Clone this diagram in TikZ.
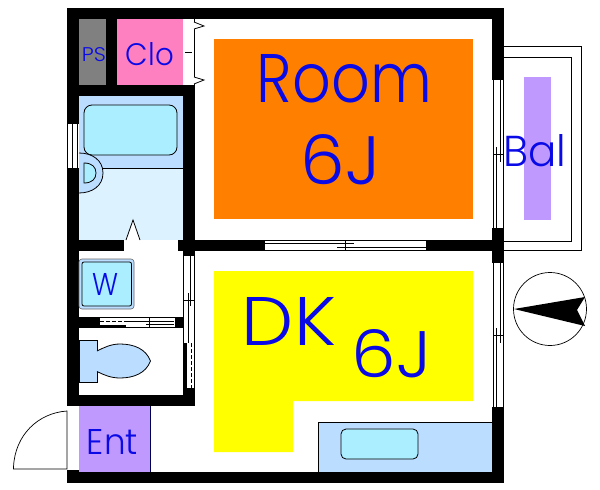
\documentclass[tikz,border=0pt]{standalone}
\usepackage{fontspec}
\setmainfont{Poppins}[UprightFont=* Light]
\definecolor{planblue}{HTML}{0A0AE6}
\definecolor{planorange}{HTML}{FF8000}
\definecolor{planyellow}{HTML}{FFFF00}
\definecolor{planpink}{HTML}{FF80C0}
\definecolor{planpurple}{HTML}{C099FF}
\definecolor{plangray}{HTML}{808080}
\definecolor{wetblue}{HTML}{BBDDFF}
\definecolor{paleblue}{HTML}{DDF2FF}
\definecolor{tubblue}{HTML}{AAEEFF}
\newcommand{\fitlabel}[3]{\resizebox{#1pt}{#2pt}{#3}}
\tikzset{
  wall/.style={fill=black,draw=none},
  gap/.style={fill=white,draw=none},
  fixture/.style={draw=black,line width=0.8pt},
  sash/.style={draw=black,line width=0.9pt},
  planlabel/.style={inner sep=0pt,text=planblue},
}
\begin{document}
\begin{tikzpicture}[x=1pt,y=-1pt]
	\useasboundingbox[fill=white] (0,0) rectangle (600,490);

	%% floors
	\fill[planorange] (214,39) rectangle (473,219);
	\fill[planyellow] (214,271) -- (473,271) -- (473,401) -- (293,401) -- (293,452) -- (214,452) -- cycle;
	\fill[plangray] (79,19) rectangle (106,85);
	\fill[planpink] (117,19) rectangle (183,85);
	\fill[wetblue] (79,96) rectangle (183,168);
	\fill[paleblue] (79,168) rectangle (183,240);
	\fill[planpurple] (524,77) rectangle (551,220);
	\fill[planpurple] (79,406) rectangle (150,472);
	\draw[draw=black!70!blue,line width=0.6pt] (150,406) -- (150,472);
	\draw[fixture,fill=wetblue] (318,472) -- (318,422) -- (492,422) -- (492,472);

	%% walls
	\fill[wall] (67,8) rectangle (504,19);
	\fill[wall] (67,472) rectangle (504,483);
	\fill[wall] (67,8) rectangle (79,123);
	\fill[wall] (67,168) rectangle (79,406);
	\fill[wall] (67,470) rectangle (79,483);
	\fill[wall] (492,8) rectangle (504,80);
	\fill[wall] (492,228) rectangle (504,263);
	\fill[wall] (492,407) rectangle (504,483);
	\fill[wall] (106,19) rectangle (117,85);
	\fill[wall] (67,85) rectangle (195,96);
	\fill[wall] (183,96) rectangle (195,256);
	\fill[wall] (79,240) rectangle (124,251);
	\fill[wall] (178,240) rectangle (265,251);
	\fill[wall] (426,240) rectangle (504,251);
	\fill[wall] (79,317) rectangle (100,328);
	\fill[wall] (175,317) rectangle (183,328);
	\fill[wall] (183,343) rectangle (187,395);
	\fill[wall] (79,395) rectangle (195,406);
	\fill[wall] (187,388) rectangle (195,395);

	%% balcony
	\draw[sash] (504,46) -- (581,46) -- (581,250) -- (504,250);
	\draw[sash] (504,57) -- (571,57) -- (571,241) -- (504,241);

	%% closet door
	\draw[sash] (194,19) -- (194,85);
	\draw[sash] (185,52) -- (192,52);
	\draw[fixture,fill=white] (194,22) -- (204,26) -- (194,29);
	\draw[fixture,fill=white] (194,77) -- (204,80) -- (194,84);

	%% windows
	\draw[sash] (67.5,123) -- (67.5,168);
	\draw[sash] (72.7,123) -- (72.7,168);
	\draw[sash] (77.3,123) -- (77.3,168);
	\draw[sash] (67,123.5) -- (79,123.5);

	\draw[sash] (493,80) -- (493,228);
	\draw[sash] (503.5,80) -- (503.5,228);
	\draw[sash] (500.5,80) -- (500.5,162);
	\draw[sash] (496,147) -- (496,228);
	\draw[sash] (493,154) -- (504,154);

	\draw[sash] (493,263) -- (493,407);
	\draw[sash] (503.5,263) -- (503.5,407);
	\draw[sash] (500.5,263) -- (500.5,343);
	\draw[sash] (496,328) -- (496,407);
	\draw[sash] (493,335) -- (504,335);

	\draw[sash] (265,240.5) -- (426,240.5);
	\draw[sash] (265,250.5) -- (426,250.5);
	\draw[sash] (265,243.5) -- (354,243.5);
	\draw[sash] (337,247.5) -- (426,247.5);
	\draw[sash] (345.5,240) -- (345.5,251);

	%% bath
	\draw[fixture,fill=tubblue,rounded corners=8pt] (84,105) rectangle (177,155);
	\draw[fixture] (79,168) -- (183,168);
	\draw[fixture,fill=wetblue] (79,153) .. controls (92,153) and (103,160) .. (103,173) .. controls (103,186) and (92,193) .. (79,193);
	\draw[fixture,fill=tubblue] (84,163) .. controls (92,163) and (96,167) .. (96,173) .. controls (96,179) and (92,183) .. (84,183) -- cycle;
	\draw[fixture,fill=white] (126,240) -- (133,220) -- (140,240);

	%% washroom door
	\draw[sash] (100,317.5) -- (175,317.5);
	\draw[sash] (126,327.5) -- (175,327.5);
	\draw[sash,dash pattern=on 4pt off 2pt] (100,321) -- (126,321);
	\draw[sash] (126,321) -- (174,321);
	\fill[wall] (100,325) rectangle (126,328);
	\draw[sash] (149.5,318) -- (149.5,328);
	\draw[sash] (146,324) -- (174,324);

	%% toilet door
	\draw[sash] (183.5,256) -- (183.5,343);
	\draw[sash] (194,256) -- (194,388);
	\draw[sash] (190.7,256) -- (190.7,306);
	\draw[sash] (188,293) -- (188,343);
	\draw[sash] (184,300) -- (195,300);
	\draw[sash,dash pattern=on 4pt off 2pt] (191,343) -- (191,388);

	%% washer
	\draw[draw=black!60,line width=0.6pt,fill=wetblue,rounded corners=3pt] (79,259) rectangle (134,309);
	\draw[fixture,fill=tubblue,rounded corners=2pt] (82,262) rectangle (131.5,306);

	%% toilet
	\draw[fixture,fill=wetblue] (79,340) rectangle (97,382);
	\draw[fixture,fill=wetblue] (97,351) .. controls (104,347.5) and (111,344) .. (120,344) .. controls (134,344) and (146,349) .. (150.5,361) .. controls (146,373) and (134,378) .. (120,378) .. controls (111,378) and (104,375) .. (97,371.5);

	%% kitchen sink
	\draw[fixture,fill=tubblue,rounded corners=5pt] (341,429) rectangle (418,459);

	%% entrance door
	\draw[fixture,line width=0.7pt] (67,411) .. controls (38,413) and (15,435) .. (13.5,467) -- (13.5,469) -- (67,469) -- cycle;

	%% north mark
	\node[draw,circle,line width=0.7pt,minimum size=73pt,inner sep=0pt] (North) at (550,309) {};
	\fill[black] (514,309) -- (585,297) -- (577,310) -- (585,326) -- cycle;

	%% labels
	\node[planlabel] (Room) at (344.5,79) {\fitlabel{175}{48}{Room}};
	\node[planlabel] (RoomSize) at (341,160) {\fitlabel{80}{50}{6J}};
	\node[planlabel] (DK) at (289,321) {\fitlabel{94}{48}{DK}};
	\node[planlabel] (DKSize) at (392,354) {\fitlabel{80}{48}{6J}};
	\node[planlabel] (Bal) at (534.5,151) {\fitlabel{63}{32}{Bal}};
	\node[planlabel] (PS) at (94,55) {\fitlabel{24}{14}{PS}};
	\node[planlabel] (Clo) at (150,54.5) {\fitlabel{48}{23}{Clo}};
	\node[planlabel] (W) at (106,285) {\fitlabel{26}{22}{W}};
	\node[planlabel] (Ent) at (112.5,441.5) {\fitlabel{51}{25}{Ent}};
\end{tikzpicture}
\end{document}
